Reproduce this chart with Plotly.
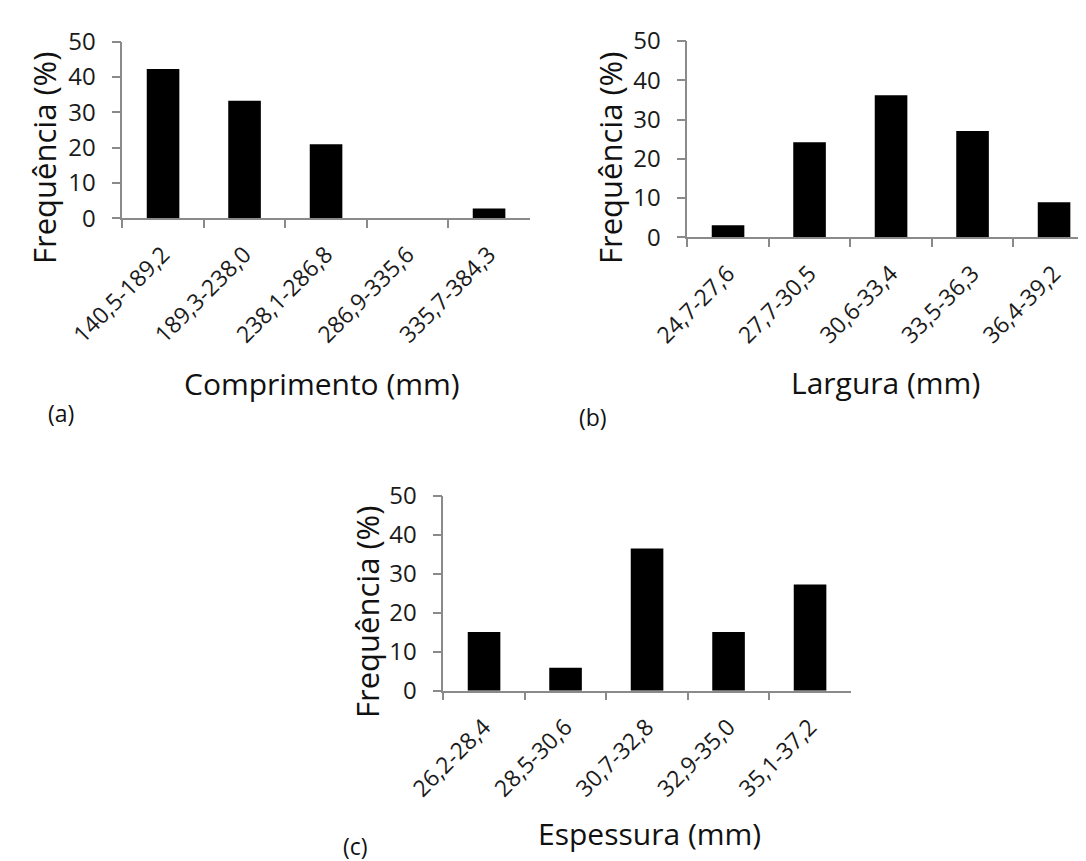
import plotly.graph_objects as go

cats_a = ["140,5-189,2", "189,3-238,0", "238,1-286,8", "286,9-335,6", "335,7-384,3"]
vals_a = [42.3, 33.3, 21.0, 0.0, 2.8]

cats_b = ["24,7-27,6", "27,7-30,5", "30,6-33,4", "33,5-36,3", "36,4-39,2"]
vals_b = [3.1, 24.2, 36.2, 27.1, 8.9]

cats_c = ["26,2-28,4", "28,5-30,6", "30,7-32,8", "32,9-35,0", "35,1-37,2"]
vals_c = [15.1, 5.9, 36.5, 15.1, 27.3]

y_ticks = [0, 10, 20, 30, 40, 50]

OFF = 8  # default page body margin
W, H = 1086 - OFF, 861 - OFF
def fx(px): return (px - OFF) / W
def fy(py): return 1 - (py - OFF) / H

TICK_FONT = "Open Sans"
TITLE_FONT = "Open Sans"
AX = "#8a8a8a"
CAT_W = 81.5  # px per category

fig = go.Figure()
panels = [
    ("x", "y", cats_a, vals_a, 122.3, (41.7, 218.3)),
    ("x2", "y2", cats_b, vals_b, 687.3, (41.0, 237.3)),
    ("x3", "y3", cats_c, vals_c, 443.3, (496.0, 690.7)),
]
for i, (xa, ya, cats, vals, x0, (y0, y1)) in enumerate(panels):
    x1 = min(x0 + 5 * CAT_W, OFF + W)
    rng_end = -0.5 + (x1 - x0) / CAT_W
    fig.add_trace(go.Bar(x=cats, y=vals, xaxis=xa, yaxis=ya,
                         marker=dict(color="black", line=dict(width=0)),
                         width=0.4, showlegend=False))
    sfx = "" if i == 0 else str(i + 1)
    fig.layout["xaxis" + sfx] = dict(
        domain=[fx(x0), min(fx(x1), 1.0)], anchor=ya, type="category", automargin=False,
        range=[-0.5, rng_end], tickson="boundaries", ticks="outside", ticklen=8,
        tickcolor=AX, tickwidth=1.5, showline=True, linecolor=AX, linewidth=1.5,
        tickangle=-45, showgrid=False, zeroline=False, ticklabelstandoff=12,
        tickfont=dict(family=TICK_FONT, size=23, color="#1a1a1a"),
    )
    fig.layout["yaxis" + sfx] = dict(
        domain=[fy(y1), fy(y0)], anchor=xa, range=[0, 50], automargin=False,
        tickvals=y_ticks, ticks="outside", ticklen=9, tickcolor=AX, tickwidth=1.5,
        showline=True, linecolor=AX, linewidth=1.5, showgrid=False,
        zeroline=False, ticklabelstandoff=11,
        tickfont=dict(family=TICK_FONT, size=24, color="#1a1a1a"),
    )

annots = [
    ("Frequência (%)", 44, 158, -90, 31),
    ("Frequência (%)", 610, 158, -90, 31),
    ("Frequência (%)", 367, 612, -90, 31),
    ("Comprimento (mm)", 322, 383, 0, 30),
    ("Largura (mm)", 885, 382, 0, 30),
    ("Espessura (mm)", 649, 833, 0, 30),
    ("(a)", 61, 413, 0, 23),
    ("(b)", 593, 417, 0, 23),
    ("(c)", 355, 846, 0, 23),
]
for text, px, py, ang, size in annots:
    fig.add_annotation(text=text, x=fx(px), y=fy(py), xref="paper", yref="paper",
                       showarrow=False, textangle=ang, xanchor="center", yanchor="middle",
                       font=dict(family=TITLE_FONT, size=size, color="#111111"))

fig.update_layout(width=W, height=H, margin=dict(l=0, r=0, t=0, b=0),
                  paper_bgcolor="white", plot_bgcolor="white", bargap=0.6)
fig.write_html("out.html")
